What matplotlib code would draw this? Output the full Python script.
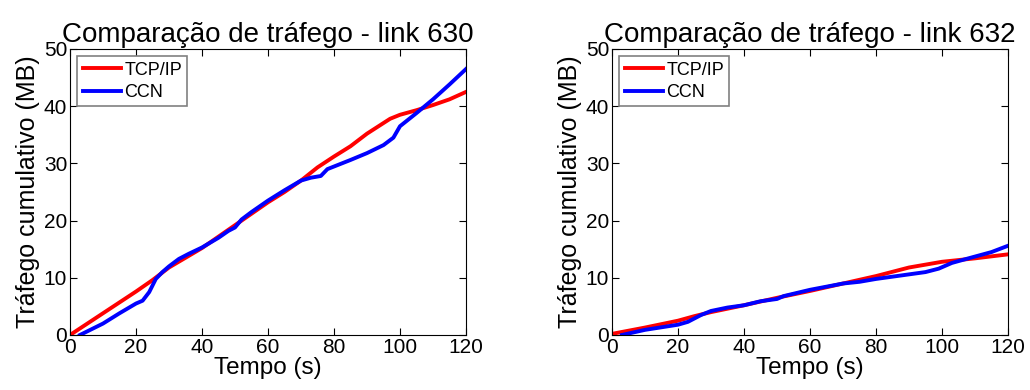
import matplotlib.pyplot as plt

plt.rcParams['font.family'] = ['Liberation Sans', 'DejaVu Sans']

# link 630
t630_tcp = [0, 10, 20, 25, 30, 35, 40, 45, 50, 55, 60, 65, 70, 75, 80, 85, 90, 97, 100, 105, 110, 115, 120]
v630_tcp = [0, 3.8, 7.6, 9.6, 11.8, 13.5, 15.2, 17.2, 19.2, 21.2, 23.2, 25.0, 27.0, 29.3, 31.2, 33.0, 35.2, 37.8, 38.5, 39.3, 40.2, 41.2, 42.5]
t630_ccn = [3, 10, 15, 20, 22, 24, 26, 28, 30, 33, 36, 40, 45, 48, 50, 52, 55, 60, 65, 70, 73, 76, 78, 85, 90, 95, 98, 100, 105, 110, 115, 120]
v630_ccn = [0, 2.0, 3.8, 5.5, 6.0, 7.5, 9.8, 11.0, 12.0, 13.3, 14.2, 15.3, 17.0, 18.2, 18.8, 20.2, 21.5, 23.5, 25.3, 27.0, 27.5, 27.8, 29.0, 30.6, 31.8, 33.2, 34.5, 36.5, 38.8, 41.2, 43.8, 46.5]

# link 632
t632_tcp = [0, 10, 20, 25, 30, 40, 50, 60, 70, 80, 90, 100, 110, 120]
v632_tcp = [0.2, 1.3, 2.5, 3.3, 4.0, 5.2, 6.5, 7.7, 9.0, 10.3, 11.8, 12.8, 13.4, 14.1]
t632_ccn = [3, 10, 20, 23, 27, 30, 35, 40, 45, 50, 52, 60, 70, 75, 80, 90, 95, 99, 103, 108, 115, 120]
v632_ccn = [0, 0.9, 1.8, 2.3, 3.5, 4.2, 4.8, 5.2, 5.9, 6.3, 6.8, 7.9, 9.0, 9.3, 9.8, 10.6, 11.0, 11.6, 12.6, 13.4, 14.5, 15.6]

panels = [
    ("Comparação de tráfego - link 630", t630_tcp, v630_tcp, t630_ccn, v630_ccn),
    ("Comparação de tráfego - link 632", t632_tcp, v632_tcp, t632_ccn, v632_ccn),
]

fig = plt.figure(figsize=(10.3, 3.9), dpi=100)
lefts = [70 / 1030, 612 / 1030]
for left, (title, tt, vt, tc, vc) in zip(lefts, panels):
    ax = fig.add_axes([left, 55 / 390, 396 / 1030, 286 / 390])
    ax.plot(tt, vt, color="red", lw=2.8, label="TCP/IP")
    ax.plot(tc, vc, color="blue", lw=2.8, label="CCN")
    ax.set_xlim(0, 120)
    ax.set_ylim(0, 50)
    ax.set_xticks(range(0, 121, 20))
    ax.set_yticks(range(0, 51, 10))
    ax.tick_params(direction="in", top=True, right=True, labelsize=15, length=5, pad=2)
    ax.set_xlabel("Tempo (s)", fontsize=17.5, labelpad=0)
    ax.set_ylabel("Tráfego cumulativo (MB)", fontsize=18, labelpad=3)
    ax.set_title(title, fontsize=20, pad=5)
    leg = ax.legend(loc="upper left", fontsize=13, fancybox=False, framealpha=1,
                    edgecolor="gray", handlelength=2.1, borderpad=0.3,
                    labelspacing=0.3, handletextpad=0.2, borderaxespad=0.4)
    leg.get_frame().set_linewidth(1.2)

fig.savefig("out.png", dpi=100)
